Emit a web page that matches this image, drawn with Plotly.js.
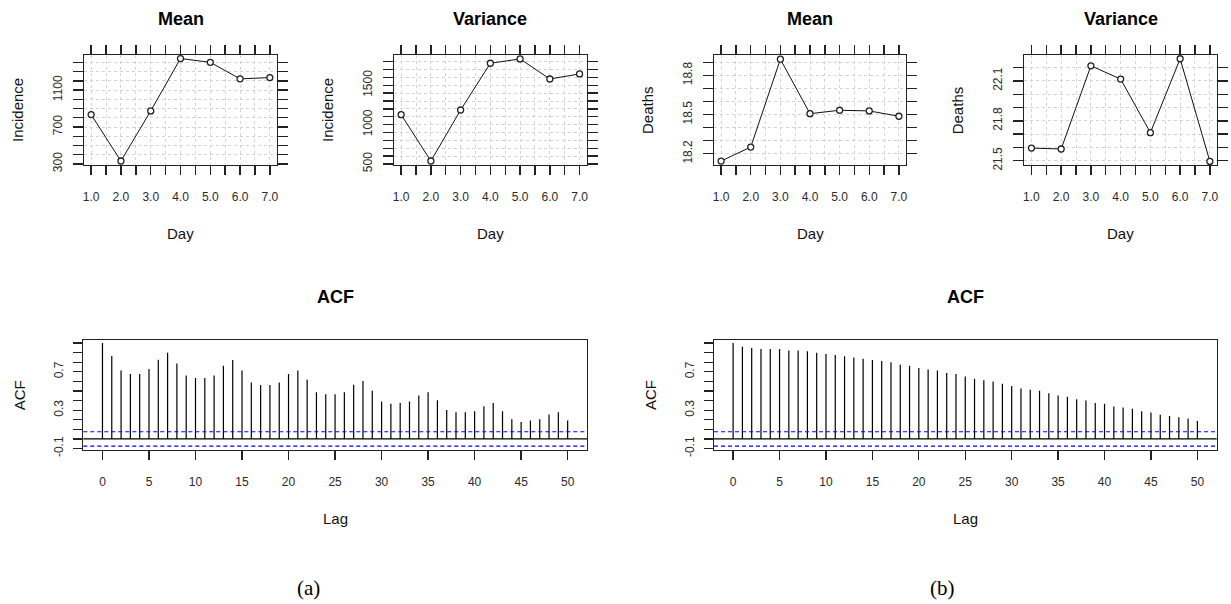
<!DOCTYPE html>
<html><head><meta charset="utf-8">
<script src="https://cdn.plot.ly/plotly-3.0.1.min.js"></script>
<style>html,body{margin:0;padding:0;background:#fff;} #chart{width:1231px;height:604px;}</style>
</head><body><div id="chart"></div>
<script>
// ---------- data ----------
const days = [1, 2, 3, 4, 5, 6, 7];
const incidenceMean = [834, 332, 874, 1441, 1400, 1221, 1235];
const incidenceVar = [1127, 538, 1186, 1780, 1835, 1580, 1644];
const deathsMean = [18.144, 18.251, 18.924, 18.507, 18.533, 18.528, 18.487];
const deathsVar = [21.595, 21.588, 22.214, 22.114, 21.711, 22.267, 21.495];

const lags = [0,1,2,3,4,5,6,7,8,9,10,11,12,13,14,15,16,17,18,19,20,21,22,23,24,25,
  26,27,28,29,30,31,32,33,34,35,36,37,38,39,40,41,42,43,44,45,46,47,48,49,50];
const acfIncidence = [1.000,0.864,0.714,0.676,0.676,0.728,0.826,0.899,0.787,0.662,
  0.634,0.634,0.662,0.763,0.822,0.714,0.589,0.561,0.561,0.589,0.676,0.714,0.617,
  0.488,0.467,0.467,0.488,0.564,0.603,0.502,0.390,0.366,0.376,0.390,0.453,0.488,
  0.404,0.303,0.279,0.279,0.289,0.341,0.376,0.289,0.206,0.178,0.192,0.206,0.254,
  0.279,0.192];
const acfDeaths = [1.000,0.962,0.948,0.937,0.937,0.937,0.923,0.923,0.913,0.899,
  0.885,0.875,0.861,0.850,0.836,0.822,0.812,0.798,0.774,0.763,0.739,0.725,0.714,
  0.686,0.676,0.652,0.627,0.613,0.599,0.575,0.551,0.526,0.512,0.502,0.477,0.453,
  0.439,0.415,0.401,0.376,0.366,0.338,0.328,0.314,0.289,0.275,0.251,0.240,0.226,
  0.213,0.188];
const ciBound = 0.075;

// tick labels
const dayTickVals = [1,1.5,2,2.5,3,3.5,4,4.5,5,5.5,6,6.5,7];
const dayTickText = ['1.0','','2.0','','3.0','','4.0','','5.0','','6.0','','7.0'];
const incMeanTickVals = [300,400,500,600,700,800,900,1000,1100,1200,1300,1400];
const incMeanTickText = ['300','','','','700','','','','1100','','',''];
const incVarTickVals = [500,600,700,800,900,1000,1100,1200,1300,1400,1500,1600,1700,1800];
const incVarTickText = ['500','','','','','1000','','','','','1500','','',''];
const dMeanTickVals = [18.2,18.3,18.4,18.5,18.6,18.7,18.8,18.9];
const dMeanTickText = ['18.2','','','18.5','','','18.8',''];
const dVarTickVals = [21.5,21.6,21.7,21.8,21.9,22.0,22.1,22.2];
const dVarTickText = ['21.5','','','21.8','','','22.1',''];
const lagTickVals = [0,5,10,15,20,25,30,35,40,45,50];
const lagTickText = ['0','5','10','15','20','25','30','35','40','45','50'];
const acfTickVals = [-0.1,0,0.1,0.2,0.3,0.4,0.5,0.6,0.7,0.8,0.9,1.0];
const acfTickText = ['-0.1','','','','0.3','','','','0.7','','',''];

// ---------- layout helpers ----------
const W = 1231, H = 604;
const FONT = 'Liberation Sans, Arial, sans-serif';
const TICKFONT = {family:FONT, size:12, color:'#2a2a2a'};
const px = v => v / W;
const py = v => 1 - v / H;

function latX(l, r, anchor) {
  return {domain:[px(l), px(r)], anchor, range:[0.76, 7.24],
    tickmode:'array', tickvals:dayTickVals, ticktext:dayTickText,
    ticks:'outside', ticklen:9, tickwidth:1.4, tickcolor:'#222',
    mirror:'allticks', showline:true, linecolor:'#222', linewidth:1.2,
    showgrid:true, gridcolor:'#d4d4d4', griddash:'3px,3px', gridwidth:1,
    zeroline:false, tickfont:TICKFONT,
    ticklabelstandoff:12, fixedrange:true};
}
function latY(range, vals, text, anchor) {
  return {domain:[py(164.7), py(55.3)], anchor, range,
    tickmode:'array', tickvals:vals, ticktext:text, tickangle:-90,
    ticks:'outside', ticklen:10, tickwidth:1.4, tickcolor:'#222',
    mirror:'allticks', showline:true, linecolor:'#222', linewidth:1.2,
    showgrid:true, gridcolor:'#d4d4d4', griddash:'3px,3px', gridwidth:1,
    zeroline:false, tickfont:TICKFONT,
    ticklabelstandoff:6, fixedrange:true};
}
function acfX(l, r, anchor) {
  return {domain:[px(l), px(r)], anchor, range:[-2.06, 52.08],
    tickmode:'array', tickvals:lagTickVals, ticktext:lagTickText,
    ticks:'outside', ticklen:9, tickwidth:1.3, tickcolor:'#222',
    mirror:true, showline:true, linecolor:'#222', linewidth:1.2,
    showgrid:false, zeroline:false, tickfont:TICKFONT,
    ticklabelstandoff:11, fixedrange:true};
}
function acfY(anchor) {
  return {domain:[py(450), py(340.3)], anchor, range:[-0.115, 1.028],
    tickmode:'array', tickvals:acfTickVals, ticktext:acfTickText, tickangle:-90,
    ticks:'outside', ticklen:9, tickwidth:1.3, tickcolor:'#222',
    mirror:true, showline:true, linecolor:'#222', linewidth:1.2,
    showgrid:false, zeroline:false, tickfont:TICKFONT,
    ticklabelstandoff:5, fixedrange:true};
}

function lineTrace(y, xa, ya) {
  return {x:days, y, xaxis:xa, yaxis:ya, type:'scatter', mode:'lines+markers',
    line:{color:'#111', width:1},
    marker:{symbol:'circle', size:6, color:'#fff', line:{color:'#222', width:1.3}},
    hoverinfo:'x+y', showlegend:false, cliponaxis:false};
}
function stickTrace(vals, xa, ya) {
  const xs = [], ys = [];
  lags.forEach((lag, i) => { xs.push(lag, lag, null); ys.push(0, vals[i], null); });
  return {x:xs, y:ys, xaxis:xa, yaxis:ya, type:'scatter', mode:'lines',
    line:{color:'#000', width:1.2}, hoverinfo:'skip', showlegend:false};
}

const data = [
  lineTrace(incidenceMean, 'x', 'y'),
  lineTrace(incidenceVar, 'x2', 'y2'),
  lineTrace(deathsMean, 'x3', 'y3'),
  lineTrace(deathsVar, 'x4', 'y4'),
  stickTrace(acfIncidence, 'x5', 'y5'),
  stickTrace(acfDeaths, 'x6', 'y6')
];

function hline(xa, ya, y, color, dash) {
  return {type:'line', xref:xa + ' domain', x0:0, x1:1, yref:ya, y0:y, y1:y,
    line:{color, width:1.2, dash}};
}
const shapes = [
  hline('x5','y5',0,'#000','solid'),
  hline('x5','y5',ciBound,'#0000FF','4px,3px'),
  hline('x5','y5',-ciBound,'#0000FF','4px,3px'),
  hline('x6','y6',0,'#000','solid'),
  hline('x6','y6',ciBound,'#0000FF','4px,3px'),
  hline('x6','y6',-ciBound,'#0000FF','4px,3px')
];

function ann(text, x, y, size, opts) {
  return Object.assign({text, x:px(x), y:py(y), xref:'paper', yref:'paper',
    xanchor:'center', yanchor:'middle', showarrow:false,
    font:{family:FONT, size, color:'#111'}}, opts || {});
}
const panelsTop = [[84,277],[394,586.7],[714,906],[1024.3,1217]];
const topTitles = ['Mean','Variance','Mean','Variance'];
const yTitles = ['Incidence','Incidence','Deaths','Deaths'];
const annotations = [];
panelsTop.forEach((p, i) => {
  const c = (p[0] + p[1]) / 2;
  annotations.push(ann('<b>' + topTitles[i] + '</b>', c, 19, 18, {font:{family:FONT,size:18,color:'#000'}}));
  annotations.push(ann('Day', c, 233, 15));
  annotations.push(ann(yTitles[i], p[0] - 66, 110, 15, {textangle:-90}));
});
const panelsAcf = [[83.3,587],[714,1216.7]];
panelsAcf.forEach(p => {
  const c = (p[0] + p[1]) / 2;
  annotations.push(ann('<b>ACF</b>', c, 297, 18, {font:{family:FONT,size:18,color:'#000'}}));
  annotations.push(ann('Lag', c, 518, 15));
  annotations.push(ann('ACF', p[0] - 64, 395, 15, {textangle:-90}));
});
annotations.push(ann('(a)', 308, 588, 21, {font:{family:'Liberation Serif, DejaVu Serif, serif', size:21, color:'#000'}}));
annotations.push(ann('(b)', 942, 588, 21, {font:{family:'Liberation Serif, DejaVu Serif, serif', size:21, color:'#000'}}));

const layout = {
  width:W, height:H, margin:{l:0,r:0,t:0,b:0},
  paper_bgcolor:'#fff', plot_bgcolor:'#fff', showlegend:false,
  font:{family:FONT, color:'#333'},
  xaxis: latX(84, 277, 'y'),
  yaxis: latY([292, 1476], incMeanTickVals, incMeanTickText, 'x'),
  xaxis2: latX(394, 586.7, 'y2'),
  yaxis2: latY([491, 1881], incVarTickVals, incVarTickText, 'x2'),
  xaxis3: latX(714, 906, 'y3'),
  yaxis3: latY([18.116, 18.954], dMeanTickVals, dMeanTickText, 'x3'),
  xaxis4: latX(1024.3, 1217, 'y4'),
  yaxis4: latY([21.470, 22.293], dVarTickVals, dVarTickText, 'x4'),
  xaxis5: acfX(83.3, 587, 'y5'),
  yaxis5: acfY('x5'),
  xaxis6: acfX(714, 1216.7, 'y6'),
  yaxis6: acfY('x6'),
  shapes, annotations
};
Plotly.newPlot('chart', data, layout, {displayModeBar:false, staticPlot:true});
</script>
</body></html>
